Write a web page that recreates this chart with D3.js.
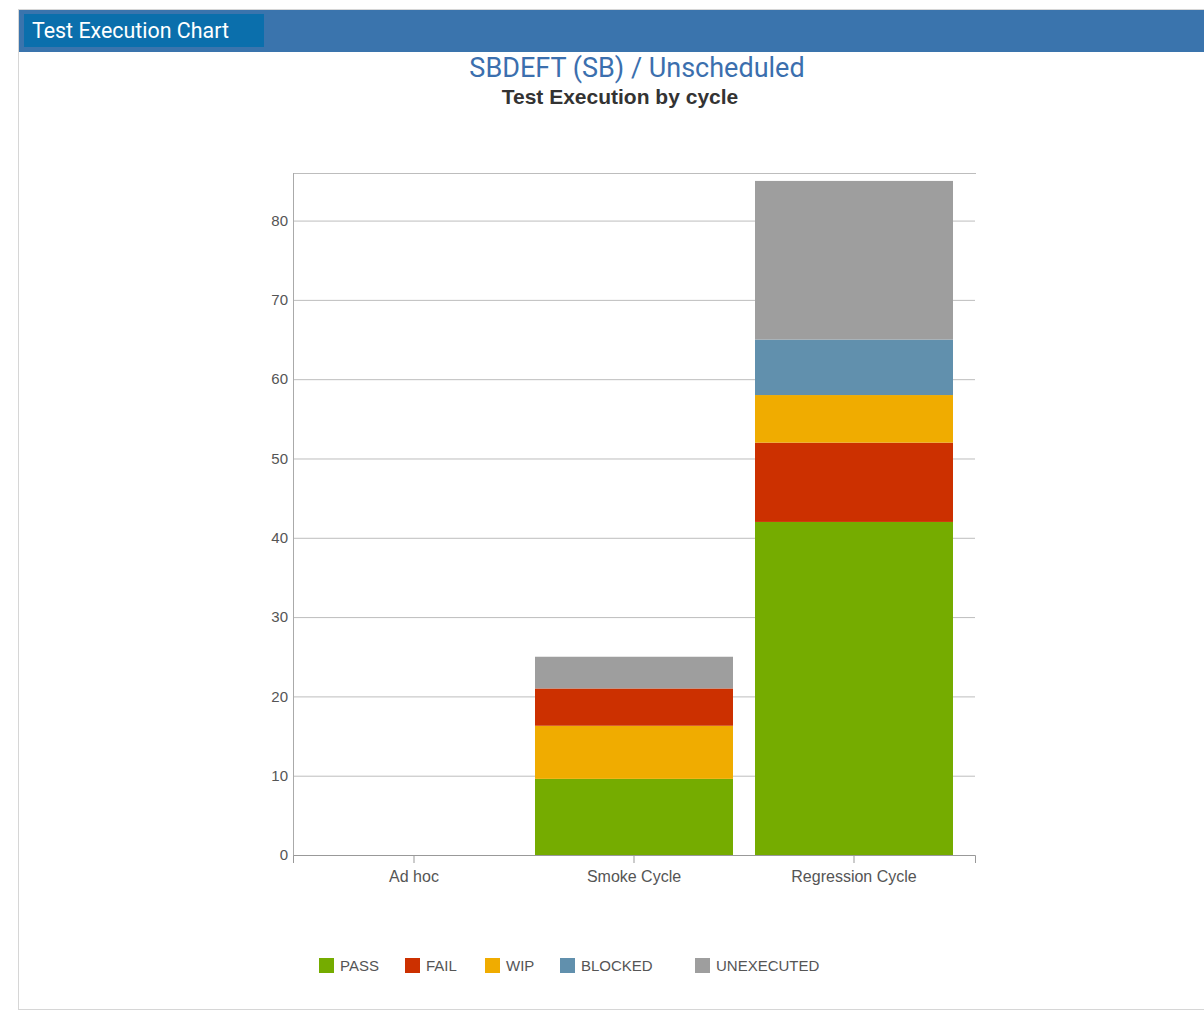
<!DOCTYPE html>
<html>
<head>
<meta charset="utf-8">
<script src="https://cdn.jsdelivr.net/npm/d3@7"></script>
<style>
  body { margin: 0; background: #fff; }
  #chart { position: absolute; left: 0; top: 0; }
</style>
</head>
<body>
<div id="chart"></div>
<script>
// Data
const cycles = ['Ad hoc', 'Smoke Cycle', 'Regression Cycle'];
const statuses = ['PASS', 'FAIL', 'WIP', 'BLOCKED', 'UNEXECUTED'];
const passValues = [0, 9.6, 42];
const failValues = [0, 4.7, 10];
const wipValues = [0, 6.7, 6];
const blockedValues = [0, 0, 7];
const unexecutedValues = [0, 4, 20];
const yTicks = [0, 10, 20, 30, 40, 50, 60, 70, 80];
const statusColors = ['#75ac00', '#cc3000', '#f0ac00', '#6190ad', '#9e9e9e'];

// segment order bottom -> top for each cycle (smoke shows WIP under FAIL)
const stackOrders = [
  ['PASS', 'FAIL', 'WIP', 'BLOCKED', 'UNEXECUTED'],
  ['PASS', 'WIP', 'FAIL', 'BLOCKED', 'UNEXECUTED'],
  ['PASS', 'FAIL', 'WIP', 'BLOCKED', 'UNEXECUTED']
];

const drawChart = () => {
  let width = 1204;
  let height = 1011;
  let plot = { left: 293, right: 975, top: 173, bottom: 855 };

  let svg = d3
    .select('#chart')
    .append('svg')
    .attr('width', width)
    .attr('height', height);

  // Panel + header
  svg.append('rect')
    .attr('x', 18.5).attr('y', 9.5)
    .attr('width', 1200).attr('height', 1000)
    .attr('fill', '#fff')
    .attr('stroke', '#d6d6d6');

  svg.append('rect')
    .attr('x', 19).attr('y', 10)
    .attr('width', 1185).attr('height', 42)
    .attr('fill', '#3a74ad');

  svg.append('rect')
    .attr('x', 24).attr('y', 14)
    .attr('width', 240).attr('height', 33)
    .attr('fill', '#0b6fac');

  svg.append('text')
    .attr('x', 32).attr('y', 38)
    .attr('fill', '#fff')
    .style('font-family', 'Roboto, sans-serif')
    .style('font-size', '21.4px')
    .text('Test Execution Chart');

  svg.append('text')
    .attr('x', 637).attr('y', 77)
    .attr('text-anchor', 'middle')
    .attr('fill', '#3b6fae')
    .style('font-family', 'Roboto, sans-serif')
    .style('font-size', '27px')
    .text('SBDEFT (SB) / Unscheduled');

  svg.append('text')
    .attr('x', 620).attr('y', 104)
    .attr('text-anchor', 'middle')
    .attr('fill', '#333')
    .style('font-family', 'Liberation Sans, Arial, sans-serif')
    .style('font-size', '21px')
    .style('font-weight', 'bold')
    .text('Test Execution by cycle');

  // Scales
  let xScale = d3.scaleBand()
    .domain(cycles)
    .range([plot.left, plot.right])
    .paddingInner(0.1)
    .paddingOuter(0.1);

  let yScale = d3.scaleLinear()
    .domain([0, 86])
    .range([plot.bottom, plot.top]);

  let colorScale = d3.scaleOrdinal().domain(statuses).range(statusColors);

  let valuesByStatus = {
    PASS: passValues,
    FAIL: failValues,
    WIP: wipValues,
    BLOCKED: blockedValues,
    UNEXECUTED: unexecutedValues
  };

  // build stacked segments
  let segments = [];
  cycles.forEach((c, i) => {
    let vals = stackOrders[i].map((s) => valuesByStatus[s][i]);
    let tops = d3.cumsum(vals);
    stackOrders[i].forEach((s, j) => {
      segments.push({ cycle: c, status: s, y0: tops[j] - vals[j], y1: tops[j] });
    });
  });

  // Gridlines
  let yAxisGenerator = d3.axisLeft(yScale)
    .tickValues(yTicks)
    .tickSize(-(plot.right - plot.left))
    .tickPadding(5);

  let yAxis = svg.append('g')
    .attr('class', 'y-axis')
    .attr('transform', `translate(${plot.left},0)`)
    .call(yAxisGenerator);

  yAxis.select('.domain').remove();
  yAxis.selectAll('line').attr('stroke', '#bdbdbd');
  yAxis.selectAll('text')
    .attr('fill', '#555')
    .style('font-family', 'Liberation Sans, Arial, sans-serif')
    .style('font-size', '15px');

  // top frame line and left axis line
  svg.append('line')
    .attr('x1', plot.left).attr('x2', plot.right + 1)
    .attr('y1', yScale(86) + 0.5).attr('y2', yScale(86) + 0.5)
    .attr('stroke', '#bdbdbd');

  svg.append('line')
    .attr('x1', plot.left + 0.5).attr('x2', plot.left + 0.5)
    .attr('y1', plot.top).attr('y2', plot.bottom)
    .attr('stroke', '#aaa');

  // Bars
  svg.append('g')
    .selectAll('rect')
    .data(segments.filter((d) => d.y1 > d.y0))
    .enter()
    .append('rect')
    .attr('x', (d) => xScale(d.cycle))
    .attr('width', xScale.bandwidth())
    .attr('y', (d) => yScale(d.y1))
    .attr('height', (d) => yScale(d.y0) - yScale(d.y1))
    .attr('fill', (d) => colorScale(d.status));

  // X axis
  let xAxis = svg.append('g')
    .attr('class', 'x-axis')
    .attr('transform', `translate(0,${plot.bottom})`)
    .call(d3.axisBottom(xScale).tickSize(8).tickSizeOuter(8).tickPadding(8));

  xAxis.selectAll('path, line').attr('stroke', '#999');
  xAxis.selectAll('text')
    .attr('fill', '#555')
    .style('font-family', 'Liberation Sans, Arial, sans-serif')
    .style('font-size', '16px');

  // Legend
  let legendX = [319, 405, 485, 560, 695];
  let legend = svg.append('g').attr('transform', 'translate(0, 958)');

  statuses.forEach((s, i) => {
    let item = legend.append('g').attr('transform', `translate(${legendX[i]}, 0)`);
    item.append('rect')
      .attr('width', 15).attr('height', 15)
      .attr('fill', colorScale(s));
    item.append('text')
      .attr('x', 21).attr('y', 7.5)
      .attr('dy', '0.35em')
      .attr('fill', '#555')
      .style('font-family', 'Liberation Sans, Arial, sans-serif')
      .style('font-size', '15px')
      .text(s);
  });
};

drawChart();
</script>
</body>
</html>
